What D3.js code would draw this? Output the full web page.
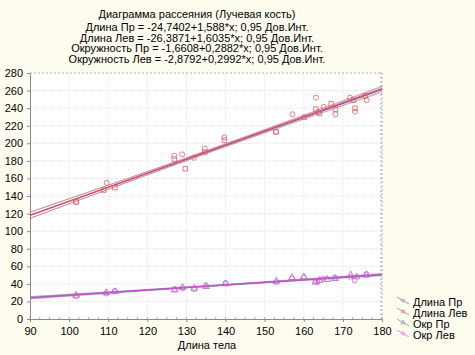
<!DOCTYPE html>
<html>
<head>
<meta charset="utf-8">
<script src="https://cdn.jsdelivr.net/npm/d3@7"></script>
<style>
  body { margin: 0; background: #fffcf0; }
  text { font-family: "Liberation Sans", Arial, sans-serif; }
</style>
</head>
<body>
<svg id="chart" width="475" height="355"></svg>
<script>
// Data
var titleText = "Диаграмма рассеяния (Лучевая кость)";
var seriesNames = ["Длина Пр", "Длина Лев", "Окр Пр", "Окр Лев"];
var intercepts = [-24.7402, -26.3871, -1.6608, -2.8792];
var slopes = [1.588, 1.6035, 0.2882, 0.2992];
var xTicks = [90, 100, 110, 120, 130, 140, 150, 160, 170, 180];
var yTicks = [0, 20, 40, 60, 80, 100, 120, 140, 160, 180, 200, 220, 240, 260, 280];

// confidence band half widths read at x = 90, 135, 180
var bandX = [90, 135, 180];
var bandHalf = [[3.5, 1.5, 3], [3.5, 1.5, 3], [1.2, 0.5, 1], [1.2, 0.5, 1]];

var lengthRightX = [101.8, 109.6, 126.9, 128.9, 131.9, 134.7, 139.7, 152.9, 157.1, 163.1, 163.7, 165.1, 168.1, 171.8, 173.1, 176.1];
var lengthRightY = [133, 155, 185.8, 187.4, 183.5, 194, 206.7, 213, 233, 252, 235.8, 241.5, 233, 252, 236, 249];
var lengthLeftX = [101.8, 108.9, 111.7, 126.9, 129.7, 134.7, 139.7, 152.9, 160.1, 163.1, 164, 167, 168.1, 172.7, 173.1, 175.7];
var lengthLeftY = [133.4, 146.8, 149.4, 182, 171, 190, 203.6, 213, 229.5, 239, 234, 245, 238.6, 249, 239.7, 254];
var girthRightX = [101.8, 109.5, 111.7, 127, 129, 132, 135, 140, 153, 157, 160, 163, 164, 166, 168, 172, 173.5, 176];
var girthRightY = [27, 30, 31, 33, 36, 35, 37, 40, 43, 47, 48, 42, 44, 45, 46, 50, 48, 50];
var girthLeftX = [101.8, 109.5, 111.7, 127, 129, 132, 135, 140, 153, 157, 160, 163, 163.5, 165, 168, 172, 173, 176];
var girthLeftY = [26, 29, 32, 34, 35, 34, 38, 41, 42, 46, 47, 43, 42, 46, 47, 48, 44, 51];

var lineColors = ["#5a50b0", "#e05050", "#4a8a6a", "#d050d0"];
var markColors = ["#e06070", "#e06060", "#b060c0", "#d060e0"];
var markShapes = [d3.symbolCircle, d3.symbolSquare, d3.symbolTriangle, d3.symbolCircle];
var pointsX = [lengthRightX, lengthLeftX, girthRightX, girthLeftX];
var pointsY = [lengthRightY, lengthLeftY, girthRightY, girthLeftY];

var svg = d3.select("#chart");
var plot = {left: 30, top: 73, right: 382, bottom: 319};

var x = d3.scaleLinear().domain([90, 180]).range([plot.left, plot.right]);
var y = d3.scaleLinear().domain([0, 280]).range([plot.bottom, plot.top]);

// plot background
svg.append("rect")
	.attr("x", plot.left).attr("y", plot.top)
	.attr("width", plot.right - plot.left).attr("height", plot.bottom - plot.top)
	.attr("fill", "white");

// grid
svg.append("g").selectAll("line").data(xTicks.slice(1, -1)).enter().append("line")
	.attr("x1", d => x(d)).attr("x2", d => x(d))
	.attr("y1", plot.top).attr("y2", plot.bottom)
	.attr("stroke", "#e4e4e4").attr("stroke-dasharray", "1,1");
svg.append("g").selectAll("line").data(yTicks.slice(1, -1)).enter().append("line")
	.attr("x1", plot.left).attr("x2", plot.right)
	.attr("y1", d => y(d)).attr("y2", d => y(d))
	.attr("stroke", "#e4e4e4").attr("stroke-dasharray", "1,1");

// top and right frame (dotted with ticks)
svg.append("line").attr("x1", plot.left).attr("x2", plot.right).attr("y1", plot.top).attr("y2", plot.top)
	.attr("stroke", "#b0b0b0").attr("stroke-dasharray", "2,2");
svg.append("line").attr("x1", plot.right).attr("x2", plot.right).attr("y1", plot.top).attr("y2", plot.bottom)
	.attr("stroke", "#b0b0b0").attr("stroke-dasharray", "2,2");

// axes
var xAxis = d3.axisBottom(x).tickValues(xTicks).tickSize(3).tickSizeOuter(0);
var yAxis = d3.axisLeft(y).tickValues(yTicks).tickSize(3).tickSizeOuter(0);

var gx = svg.append("g").attr("transform", "translate(0," + plot.bottom + ")").call(xAxis);
var gy = svg.append("g").attr("transform", "translate(" + plot.left + ",0)").call(yAxis);
[gx, gy].forEach(function(g){
	g.select(".domain").attr("stroke", "#8a8a8a");
	g.selectAll(".tick line").attr("stroke", "#8a8a8a");
	g.selectAll(".tick text").attr("fill", "#000").style("font-size", "11px")
		.style("font-family", "'Liberation Sans', Arial, sans-serif");
});
gx.selectAll(".tick text").attr("dy", "0.9em");
gy.selectAll(".tick text").attr("dx", "-1");

// minor ticks on right side and bottom
svg.append("g").selectAll("line").data(d3.range(0, 281, 5)).enter().append("line")
	.attr("x1", plot.right - 2).attr("x2", plot.right)
	.attr("y1", d => y(d)).attr("y2", d => y(d))
	.attr("stroke", "#b0b0b0");
svg.append("g").selectAll("line").data(d3.range(90, 181, 2.5)).enter().append("line")
	.attr("x1", d => x(d)).attr("x2", d => x(d))
	.attr("y1", plot.bottom).attr("y2", plot.bottom - 2)
	.attr("stroke", "#b0b0b0");

// regression lines with confidence bands
var curve = d3.line().x(d => x(d[0])).y(d => y(d[1])).curve(d3.curveNatural);
var lines = svg.append("g");
seriesNames.forEach(function(name, i){
	var fit = function(v){ return intercepts[i] + slopes[i] * v; };
	[-1, 1].forEach(function(s){
		lines.append("path")
			.attr("d", curve(bandX.map((v, j) => [v, fit(v) + s * bandHalf[i][j]])))
			.attr("fill", "none").attr("stroke", lineColors[i]).attr("stroke-opacity", 0.55).attr("stroke-width", 0.8);
	});
	lines.append("line")
		.attr("x1", x(90)).attr("y1", y(fit(90)))
		.attr("x2", x(180)).attr("y2", y(fit(180)))
		.attr("stroke", lineColors[i]).attr("stroke-width", 1.1);
});

// points
var pts = svg.append("g");
seriesNames.forEach(function(name, i){
	pts.selectAll(null).data(pointsX[i].map((v, j) => [v, pointsY[i][j]])).enter().append("path")
		.attr("transform", d => "translate(" + x(d[0]) + "," + y(d[1]) + ")")
		.attr("d", d3.symbol().type(markShapes[i]).size(20))
		.attr("fill", "none").attr("stroke", markColors[i]).attr("stroke-width", 0.8);
});

// titles
var titles = [titleText];
seriesNames.forEach(function(name, i){
	var full = i < 2 ? name : name.replace("Окр", "Окружность");
	var a = String(intercepts[i]).replace(".", ",");
	var b = String(slopes[i]).replace(".", ",");
	titles.push(full + " = " + a + "+" + b + "*x; 0,95 Дов.Инт.");
});
svg.append("g").selectAll("text").data(titles).enter().append("text")
	.attr("x", 197).attr("y", (d, i) => i === 0 ? 18 : 31 + (i - 1) * 10.5)
	.attr("text-anchor", "middle").style("font-size", "11px").text(d => d);

// x label
svg.append("text").attr("x", 207).attr("y", 349).attr("text-anchor", "middle")
	.style("font-size", "11px").text("Длина тела");

// legend
var legend = svg.append("g").attr("transform", "translate(397,302)");
seriesNames.forEach(function(name, i){
	var g = legend.append("g").attr("transform", "translate(0," + i * 11 + ")");
	g.append("line").attr("x1", 0).attr("y1", -5).attr("x2", 12).attr("y2", 2)
		.attr("stroke", lineColors[i]).attr("stroke-opacity", 0.6);
	g.append("path").attr("transform", "translate(6,-1.5)")
		.attr("d", d3.symbol().type(markShapes[i]).size(8))
		.attr("fill", "none").attr("stroke", markColors[i]).attr("stroke-width", 0.6);
	g.append("text").attr("x", 16).attr("y", 4).style("font-size", "11px").text(name);
});
</script>
</body>
</html>
